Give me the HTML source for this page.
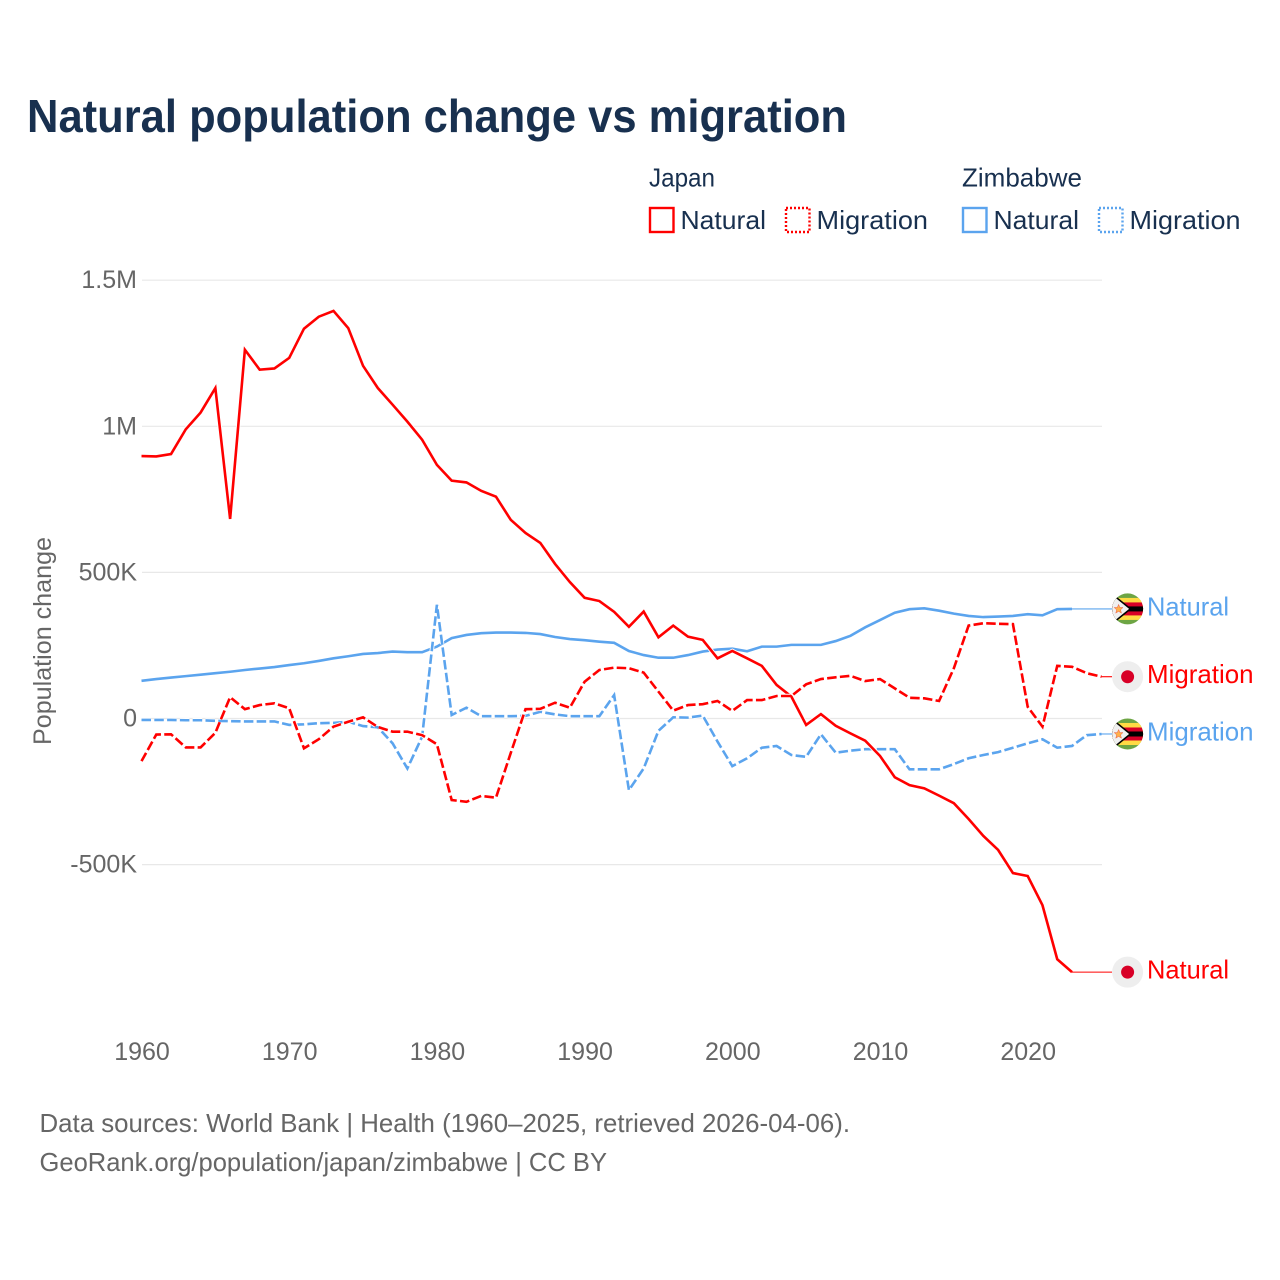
<!DOCTYPE html>
<html lang="en">
<head>
<meta charset="utf-8">
<title>Natural population change vs migration</title>
<style>
html,body{margin:0;padding:0;background:#fff;}
svg{display:block;font-family:"Liberation Sans",sans-serif;}
</style>
</head>
<body>
<svg id="chart" xmlns="http://www.w3.org/2000/svg" width="1280" height="1280" viewBox="0 0 1280 1280">
  <defs>
    <clipPath id="flag-clip-a"><circle cx="0" cy="0" r="15.5"></circle></clipPath>
  </defs>
  <rect x="0" y="0" width="1280" height="1280" fill="#ffffff"></rect>
  <text x="27" y="132" font-size="46" font-weight="700" fill="#18304f" textLength="820" lengthAdjust="spacingAndGlyphs">Natural population change vs migration</text>

  <g font-size="26" fill="#18304f">
    <text x="649" y="186.5" textLength="66" lengthAdjust="spacingAndGlyphs">Japan</text>
    <text x="962" y="186.5" textLength="120" lengthAdjust="spacingAndGlyphs">Zimbabwe</text>
    <rect x="650" y="208" width="23.5" height="24" fill="none" stroke="#ff0000" stroke-width="2.4"></rect>
    <text x="680.5" y="229" textLength="85.5" lengthAdjust="spacingAndGlyphs">Natural</text>
    <rect x="786" y="208" width="23.5" height="24" fill="none" stroke="#ff0000" stroke-width="2.4" stroke-dasharray="2 2"></rect>
    <text x="816.5" y="229" textLength="111.5" lengthAdjust="spacingAndGlyphs">Migration</text>
    <rect x="963" y="208" width="23.5" height="24" fill="none" stroke="#5ba4ee" stroke-width="2.4"></rect>
    <text x="993.5" y="229" textLength="85.5" lengthAdjust="spacingAndGlyphs">Natural</text>
    <rect x="1099" y="208" width="23.5" height="24" fill="none" stroke="#5ba4ee" stroke-width="2.4" stroke-dasharray="2 2"></rect>
    <text x="1129.5" y="229" textLength="111" lengthAdjust="spacingAndGlyphs">Migration</text>
  </g>

  <text transform="translate(51 641) rotate(-90)" text-anchor="middle" font-size="25" fill="#666666" textLength="208" lengthAdjust="spacingAndGlyphs">Population change</text>

  <g id="grid"></g>
  <g id="yticks"></g>
  <g id="xticks"></g>
  <g id="series"></g>
  <g id="endlabels"></g>

  <text x="39.5" y="1132" font-size="26" fill="#666666" textLength="810.5" lengthAdjust="spacingAndGlyphs">Data sources: World Bank | Health (1960–2025, retrieved 2026-04-06).</text>
  <text x="39.5" y="1171" font-size="26" fill="#666666" textLength="567.5" lengthAdjust="spacingAndGlyphs">GeoRank.org/population/japan/zimbabwe | CC BY</text>
</svg>

<script>
// Values are in thousands of people per year.
const startYear = 1960;
const yTickValues = [1500, 1000, 500, 0, -500];
const yTickLabels = ['1.5M', '1M', '500K', '0', '-500K'];
const xTickYears = [1960, 1970, 1980, 1990, 2000, 2010, 2020];

const japanNatural = [898,897,905,990,1047,1131,683,1262,1194,1198,1234,1334,1375,1395,1336,1207,1131,1074,1016,954,868,814,808,779,759,680,635,601,529,467,413,402,365,314,366,278,318,280,269,206,231,206,180,115,75,-22,15,-25,-51,-76,-128,-201,-228,-239,-264,-290,-344,-402,-450,-529,-539,-639,-824,-868];
const japanMigration = [-146,-55,-54,-99,-99,-49,73,32,46,52,35,-102,-71,-28,-11,4,-29,-45,-45,-57,-88,-279,-285,-265,-271,-118,32,33,54,37,126,166,174,172,157,92,27,46,49,60,26,63,63,77,77,117,135,141,146,128,135,103,71,69,60,172,318,326,324,323,40,-28,180,177,155,143];
const zimbabweNatural = [129,135,140,145,150,155,160,166,171,176,183,189,197,206,213,221,224,229,227,227,246,275,286,292,294,294,293,289,279,272,268,263,259,231,217,208,208,217,229,236,239,230,246,246,252,252,252,265,283,312,337,362,374,377,369,359,351,347,349,351,357,353,374,375];
const zimbabweMigration = [-5,-5,-5,-6,-6,-8,-9,-10,-10,-10,-22,-20,-16,-15,-11,-26,-30,-85,-171,-62,389,12,37,8,8,8,9,23,14,8,8,8,80,-245,-171,-42,4,3,10,-79,-163,-136,-100,-94,-125,-131,-54,-117,-110,-105,-105,-105,-174,-174,-174,-156,-136,-125,-115,-100,-85,-71,-100,-94,-57,-53];

const NS = 'http://www.w3.org/2000/svg';
const RED = '#ff0000';
const BLUE = '#5ba4ee';
const plotLeft = 141.5;
const plotRight = 1102;
const pxPerYear = 14.77;
const pxPerThousand = 0.2922;
const zeroY = 718.5;
const connectorEnd = 1112;

function xScale(year) { return plotLeft + (year - startYear) * pxPerYear; }
function yScale(value) { return zeroY - value * pxPerThousand; }

function make(tag, attrs, parent) {
  const el = document.createElementNS(NS, tag);
  Object.keys(attrs).forEach(function (k) { el.setAttribute(k, attrs[k]); });
  parent.appendChild(el);
  return el;
}

const grid = document.getElementById('grid');
const yticks = document.getElementById('yticks');
const xticks = document.getElementById('xticks');
const seriesGroup = document.getElementById('series');
const endLabels = document.getElementById('endlabels');

yTickValues.forEach(function (v, i) {
  const line = make('line', { x1: 142, x2: plotRight, y1: yScale(v), y2: yScale(v), stroke: '#e8e8e8', 'stroke-width': 1.2 }, grid);
  
  
  const label = make('text', { x: 137, y: yScale(v) + 8, 'text-anchor': 'end', 'font-size': 25, fill: '#666666' }, yticks);
  
  
  label.textContent = yTickLabels[i];
});

xTickYears.forEach(function (year) {
  const label = make('text', { x: xScale(year) + 0.5, y: 1060, 'text-anchor': 'middle', 'font-size': 25, fill: '#666666' }, xticks);
  
  
  label.textContent = String(year);
});

function drawSeries(values, color, dashed, name) {
  const pts = values.map(function (v, i) {
    return xScale(startYear + i).toFixed(2) + ',' + yScale(v).toFixed(2);
  }).join(' ');
  const halo = { points: pts, fill: 'none', stroke: '#ffffff', 'stroke-width': 4.4, 'stroke-linejoin': 'miter' };
  const attrs = { points: pts, fill: 'none', stroke: color, 'stroke-width': 2.6, 'stroke-linejoin': 'miter' };
  if (dashed) {
    halo['stroke-dasharray'] = '9.5 3.3';
    attrs['stroke-dasharray'] = '9.5 3.3';
  }
  const under = make('polyline', halo, seriesGroup);
  
  
  const line = make('polyline', attrs, seriesGroup);
  
  
  const lastIndex = values.length - 1;
  const endY = yScale(values[lastIndex]);
  const conn = make('line', { x1: xScale(startYear + lastIndex), x2: connectorEnd, y1: endY, y2: endY, stroke: color, 'stroke-width': 1.1 }, seriesGroup);
  
  
}

function drawFlagJapan(g) {
  const bg = make('circle', { cx: 0, cy: 0, r: 15.5, fill: '#eeeeee' }, g);
  
  
  const sun = make('circle', { cx: 0, cy: 0, r: 6.5, fill: '#d80027' }, g);
  
  
}

function drawFlagZimbabwe(g) {
  const clip = make('g', { 'clip-path': 'url(#flag-clip-a)' }, g);
  
  
  make('rect', { x: -16, y: -16, width: 32, height: 32, fill: '#6da544' }, clip);
  make('rect', { x: -16, y: -11, width: 32, height: 22, fill: '#ffda44' }, clip);
  make('rect', { x: -16, y: -6.5, width: 32, height: 13, fill: '#d80027' }, clip);
  make('rect', { x: -16, y: -2.5, width: 32, height: 5, fill: '#000000' }, clip);
  make('polygon', { points: '-17,-17 4,0 -17,17', fill: '#000000' }, clip);
  make('polygon', { points: '-17,-15 1.5,0 -17,15', fill: '#f0f0f0' }, clip);
  make('polygon', { points: '-9,-4.5 -7.7,-1.4 -4.6,-1.4 -7,0.9 -6.2,4.2 -9,2.4 -11.8,4.2 -11,0.9 -13.4,-1.4 -10.3,-1.4', fill: '#ffb14a', stroke: '#e8564a', 'stroke-width': 0.5 }, clip);
}

function drawEnd(values, color, label, flag, name) {
  const cy = yScale(values[values.length - 1]);
  const g = make('g', { transform: 'translate(1127.6 ' + cy.toFixed(2) + ')' }, endLabels);
  
  
  flag(g);
  const t = make('text', { x: 1147, y: cy + 6.5, 'font-size': 26, fill: color, textLength: label === 'Natural' ? 82 : 106.5, lengthAdjust: 'spacingAndGlyphs' }, endLabels);
  
  
  t.textContent = label;
}

drawSeries(zimbabweNatural, BLUE, false, 'line-zimbabwe-natural');
drawSeries(zimbabweMigration, BLUE, true, 'line-zimbabwe-migration');
drawSeries(japanNatural, RED, false, 'line-japan-natural');
drawSeries(japanMigration, RED, true, 'line-japan-migration');

drawEnd(zimbabweNatural, BLUE, 'Natural', drawFlagZimbabwe, 'end-zimbabwe-natural');
drawEnd(japanMigration, RED, 'Migration', drawFlagJapan, 'end-japan-migration');
drawEnd(zimbabweMigration, BLUE, 'Migration', drawFlagZimbabwe, 'end-zimbabwe-migration');
drawEnd(japanNatural, RED, 'Natural', drawFlagJapan, 'end-japan-natural');
</script>
</body>
</html>
